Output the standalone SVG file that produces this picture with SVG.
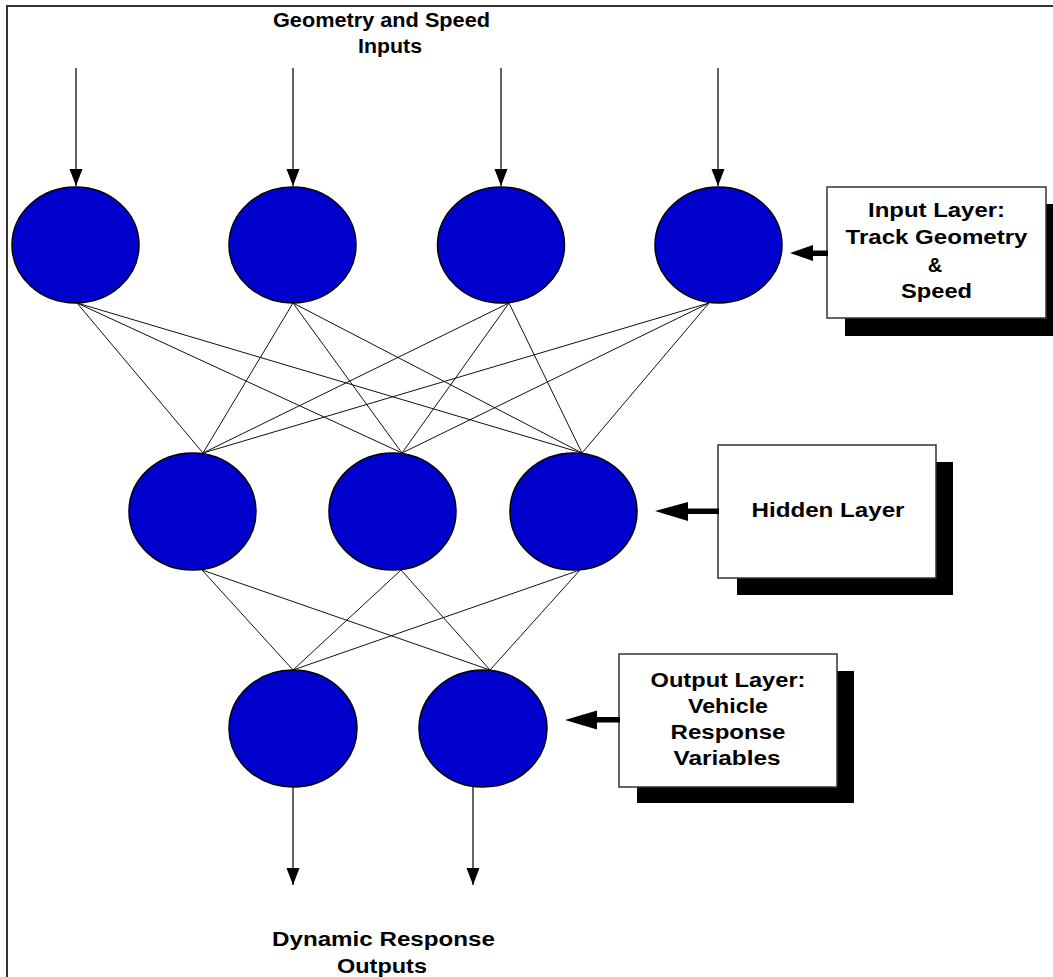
<svg xmlns="http://www.w3.org/2000/svg" width="1053" height="977" viewBox="0 0 1053 977">
  <style>
    .frame { fill: none; stroke: #333; stroke-width: 2; }
    .neuron { fill: #0000cc; stroke: #000; stroke-width: 1.5; }
    .link { stroke: #111; stroke-width: 1; fill: none; }
    .flow { stroke: #111; stroke-width: 1.3; fill: none; marker-end: url(#tip); }
    .shadow { fill: #000; }
    .box { fill: #fff; stroke: #333; stroke-width: 1.5; }
    .pointer { fill: #000; }
    .lbl { font-family: "Liberation Sans", Arial, sans-serif; font-weight: bold; font-size: 20px; fill: #000; }
    .mid { text-anchor: middle; }
  </style>
  <defs>
    <marker id="tip" markerUnits="userSpaceOnUse" markerWidth="18" markerHeight="14" refX="17" refY="6.5" orient="auto">
      <path d="M0,0 L17,6.5 L0,13 z" fill="#000"/>
    </marker>
  </defs>

  <rect width="1053" height="977" fill="#fff"/>
  <!-- outer frame: top and left edges -->
  <path class="frame" d="M7,977 V6 H1053"/>

  <!-- all weighted links and flow arrows -->
  <g id="connectors">
    <!-- input to hidden -->
    <line class="link" x1="77" y1="303" x2="203" y2="453"/>
    <line class="link" x1="77" y1="303" x2="402" y2="453"/>
    <line class="link" x1="77" y1="303" x2="582" y2="453"/>
    <line class="link" x1="293" y1="303" x2="203" y2="453"/>
    <line class="link" x1="293" y1="303" x2="402" y2="453"/>
    <line class="link" x1="293" y1="303" x2="582" y2="453"/>
    <line class="link" x1="509" y1="303" x2="203" y2="453"/>
    <line class="link" x1="509" y1="303" x2="402" y2="453"/>
    <line class="link" x1="509" y1="303" x2="582" y2="453"/>
    <line class="link" x1="709" y1="303" x2="203" y2="453"/>
    <line class="link" x1="709" y1="303" x2="402" y2="453"/>
    <line class="link" x1="709" y1="303" x2="582" y2="453"/>
    <!-- hidden to output -->
    <line class="link" x1="202" y1="570" x2="293" y2="670"/>
    <line class="link" x1="202" y1="570" x2="490" y2="670"/>
    <line class="link" x1="401" y1="570" x2="293" y2="670"/>
    <line class="link" x1="401" y1="570" x2="490" y2="670"/>
    <line class="link" x1="580" y1="570" x2="293" y2="670"/>
    <line class="link" x1="580" y1="570" x2="490" y2="670"/>
    <!-- incoming signals -->
    <line class="flow" x1="76" y1="68" x2="76" y2="186"/>
    <line class="flow" x1="293" y1="68" x2="293" y2="186"/>
    <line class="flow" x1="501" y1="68" x2="501" y2="186"/>
    <line class="flow" x1="718" y1="68" x2="718" y2="186"/>
    <!-- outgoing signals -->
    <line class="flow" x1="293" y1="787" x2="293" y2="885"/>
    <line class="flow" x1="473" y1="787" x2="473" y2="885"/>
  </g>

  <!-- input layer neurons -->
  <g id="input-1"><ellipse class="neuron" cx="75.5" cy="245" rx="63.5" ry="58"/></g>
  <g id="input-2"><ellipse class="neuron" cx="292.5" cy="245" rx="63.5" ry="58"/></g>
  <g id="input-3"><ellipse class="neuron" cx="501" cy="245" rx="63.5" ry="58"/></g>
  <g id="input-4"><ellipse class="neuron" cx="718.5" cy="245" rx="63.5" ry="58"/></g>

  <!-- hidden layer neurons -->
  <g id="hidden-1"><ellipse class="neuron" cx="192.5" cy="511.5" rx="63.5" ry="58.5"/></g>
  <g id="hidden-2"><ellipse class="neuron" cx="392.5" cy="511.5" rx="63.5" ry="58.5"/></g>
  <g id="hidden-3"><ellipse class="neuron" cx="573.5" cy="511.5" rx="63.5" ry="58.5"/></g>

  <!-- output layer neurons -->
  <g id="output-1"><ellipse class="neuron" cx="293" cy="728.5" rx="64" ry="58.5"/></g>
  <g id="output-2"><ellipse class="neuron" cx="483" cy="728.5" rx="64" ry="58.5"/></g>

  <!-- headings -->
  <g id="title-inputs">
    <text class="lbl" x="273" y="27" textLength="217" lengthAdjust="spacingAndGlyphs">Geometry and Speed</text>
    <text class="lbl" x="358" y="53" textLength="64" lengthAdjust="spacingAndGlyphs">Inputs</text>
  </g>
  <g id="title-outputs">
    <text class="lbl" x="272" y="946" textLength="223" lengthAdjust="spacingAndGlyphs">Dynamic Response</text>
    <text class="lbl" x="337" y="973" textLength="90" lengthAdjust="spacingAndGlyphs">Outputs</text>
  </g>

  <!-- callout: input layer -->
  <g id="note-input">
    <rect class="shadow" x="845" y="204" width="219" height="132"/>
    <rect class="box" x="827" y="187" width="219" height="131"/>
    <path class="pointer" d="M790,253 L813,245 L813,250.5 L828,250.5 L828,256 L813,256 L813,261 z"/>
    <text class="lbl mid" x="936.5" y="217" textLength="137" lengthAdjust="spacingAndGlyphs">Input Layer:</text>
    <text class="lbl mid" x="936.5" y="244" textLength="182" lengthAdjust="spacingAndGlyphs">Track Geometry</text>
    <text class="lbl mid" x="935" y="272">&amp;</text>
    <text class="lbl mid" x="936.5" y="298" textLength="71" lengthAdjust="spacingAndGlyphs">Speed</text>
  </g>

  <!-- callout: hidden layer -->
  <g id="note-hidden">
    <rect class="shadow" x="737" y="462" width="216" height="133"/>
    <rect class="box" x="718" y="445" width="218" height="133"/>
    <path class="pointer" d="M655,511 L688,502 L688,508.5 L719,508.5 L719,514 L688,514 L688,521 z"/>
    <text class="lbl mid" x="828" y="517" textLength="153" lengthAdjust="spacingAndGlyphs">Hidden Layer</text>
  </g>

  <!-- callout: output layer -->
  <g id="note-output">
    <rect class="shadow" x="637" y="671" width="217" height="132"/>
    <rect class="box" x="619" y="654" width="218" height="133"/>
    <path class="pointer" d="M565,720 L597,710.5 L597,717 L620,717 L620,722.5 L597,722.5 L597,729.5 z"/>
    <text class="lbl mid" x="728" y="687" textLength="155" lengthAdjust="spacingAndGlyphs">Output Layer:</text>
    <text class="lbl mid" x="728" y="713" textLength="80" lengthAdjust="spacingAndGlyphs">Vehicle</text>
    <text class="lbl mid" x="728" y="739" textLength="115" lengthAdjust="spacingAndGlyphs">Response</text>
    <text class="lbl mid" x="727" y="765" textLength="107" lengthAdjust="spacingAndGlyphs">Variables</text>
  </g>
</svg>
